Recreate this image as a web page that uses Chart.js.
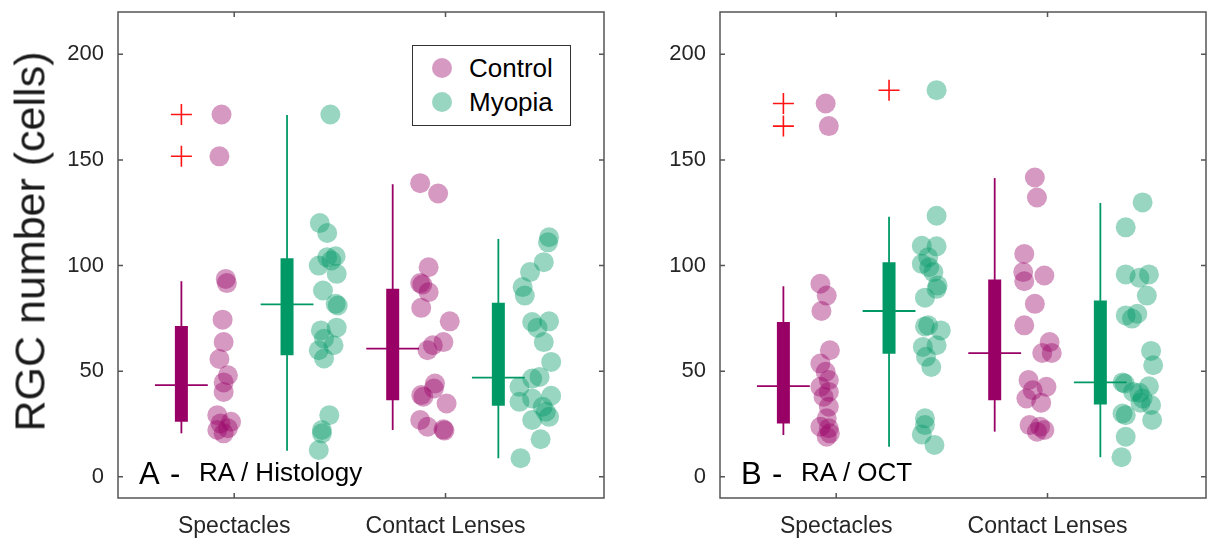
<!DOCTYPE html>
<html>
<head>
<meta charset="utf-8">
<script src="https://cdn.jsdelivr.net/npm/chart.js@4.4.1/dist/chart.umd.min.js"></script>
<style>
  body { margin: 0; background: #fff; }
  #wrap { position: relative; width: 1207px; height: 541px; overflow: hidden;
          font-family: "Liberation Sans", Arial, Helvetica, sans-serif; color: #000; }
  canvas { position: absolute; top: 0; }
  .txt { position: absolute; line-height: 1; white-space: nowrap; }
  #ytitle { left: -200px; top: 220px; width: 460px; text-align: center; font-size: 43px;
            transform: rotate(-90deg); color: #1a1a1a; }
  #legend { position: absolute; left: 412px; top: 45px; width: 159px; height: 81px;
            box-sizing: border-box; border: 1.5px solid #333; background: #fff; }
  .dot { position: absolute; width: 20px; height: 20px; border-radius: 50%; }
</style>
</head>
<body>
<div id="wrap">
  <canvas id="histo" width="610" height="541" style="left:0"></canvas>
  <canvas id="oct" width="605" height="541" style="left:602px"></canvas>

  <div id="ytitle" class="txt">RGC number (cells)</div>

  <div id="legend">
    <div class="dot" style="left:19px; top:12px; background:rgba(153,0,102,0.4)"></div>
    <div class="txt" style="left:56px; top:9px; font-size:26px">Control</div>
    <div class="dot" style="left:19px; top:46px; background:rgba(0,153,102,0.4)"></div>
    <div class="txt" style="left:56px; top:43px; font-size:26px">Myopia</div>
  </div>

  <div class="txt" style="left:139px; top:458px; font-size:31px">A</div>
  <div class="txt" style="left:170px; top:458px; font-size:31px">-</div>
  <div class="txt" style="left:199px; top:459px; font-size:26px">RA / Histology</div>

  <div class="txt" style="left:741px; top:458px; font-size:31px">B</div>
  <div class="txt" style="left:772px; top:458px; font-size:31px">-</div>
  <div class="txt" style="left:801px; top:459px; font-size:26px">RA / OCT</div>
</div>

<script>
const categories = ["Spectacles", "Contact Lenses"];
const yTicks = [0, 50, 100, 150, 200];

// A - RA / Histology : individual eyes and jitter (x offset, axis units)
const histCtrlSpec = [171.5, 151.7, 93.7, 91.7, 74.4, 63.8, 55.8, 48.1, 44.7, 40.2, 29.2, 26.1, 25.3, 22.2, 23.0, 20.6];
const histCtrlSpecJit = [-0.01, -0.02, 0.01, 0.015, -0.005, 0, -0.02, 0.02, 0, 0, -0.03, 0.035, -0.015, -0.03, 0.02, 0];
const histMyoSpec = [171.5, 120.1, 115.4, 104.4, 103.9, 102.4, 100, 96.1, 88.2, 81.9, 81.1, 70.6, 69.3, 65.4, 62.3, 59.9, 56.0, 29.2, 22.2, 20.6, 12.7];
const histMyoSpecJit = [0.005, -0.045, -0.01, 0.03, -0.01, 0.01, -0.05, 0.035, -0.03, 0.03, 0.04, 0.035, -0.04, -0.025, 0.02, -0.05, -0.025, 0, -0.035, -0.035, -0.05];
const histCtrlCL = [139, 134.1, 99.2, 91.7, 91, 87.4, 80, 73.6, 63.8, 62.3, 59.9, 44.2, 41.8, 38.7, 37.9, 34.7, 26.9, 23.7, 22.5, 21.9];
const histCtrlCLJit = [-0.07, 0.015, -0.03, -0.07, -0.06, -0.03, -0.065, 0.07, 0.04, -0.01, -0.035, 0, -0.005, -0.065, -0.055, 0.055, -0.07, -0.035, 0.04, 0.045];
const histMyoCL = [113.4, 111, 101.6, 96.9, 89.8, 85.8, 73.3, 73.6, 70.6, 63.8, 54.4, 47.3, 46.5, 42.6, 38.4, 37.1, 35.5, 33.2, 30.8, 28.4, 26.9, 17.8, 8.8];
const histMyoCLJit = [0.04, 0.035, 0.015, -0.05, -0.085, -0.075, -0.04, 0.04, -0.015, 0.015, 0.05, -0.005, -0.04, -0.1, 0.05, -0.04, -0.1, 0.01, 0.025, 0.04, -0.04, 0, -0.095];

// box stats: [whisker low, q1, median, q3, whisker high]
const histCtrlSpecBox = [20.6, 26.1, 43.4, 71.4, 92.6];
const histMyoSpecBox = [12.4, 57.5, 81.6, 103.5, 171.2];
const histCtrlCLBox = [22.2, 36.3, 60.7, 89, 138.5];
const histMyoCLBox = [8.8, 33.6, 47, 82.4, 112.6];
const histCtrlSpecOut = [171.5, 151.7];

// B - RA / OCT
const octCtrlSpec = [176.7, 166, 91.4, 85.8, 78.5, 59.9, 53.6, 49.7, 45.8, 42.6, 40.2, 37.9, 33.2, 27.7, 23.7, 23.0, 20.6, 19];
const octCtrlSpecJit = [0, 0.015, -0.025, 0.005, -0.02, 0.02, -0.025, 0, 0.015, -0.025, 0.015, -0.01, 0.015, 0.005, -0.025, 0.015, 0.02, 0.005];
const octMyoSpec = [183, 123.6, 109.4, 109.1, 103.9, 100.8, 99.2, 96.9, 90.6, 89, 84.8, 71.7, 71.2, 69.3, 62.3, 61.5, 56.8, 52, 27.7, 24.5, 20.1, 15.1];
const octMyoSpecJit = [0.025, 0.025, -0.045, 0.025, -0.015, -0.045, -0.01, 0.01, 0.03, 0.025, -0.03, -0.015, -0.03, 0.045, 0.025, -0.04, -0.025, 0, -0.03, -0.03, -0.045, 0.015];
const octCtrlCL = [141.7, 132.2, 105.5, 96.9, 92.6, 95.3, 81.9, 71.7, 63.8, 58.6, 58.6, 45.8, 42.6, 41, 37.1, 35.1, 24.5, 23.7, 22.2, 21.4];
const octCtrlCLJit = [-0.01, 0, -0.06, -0.065, -0.06, 0.035, -0.01, -0.06, 0.06, 0.025, 0.07, -0.04, 0.045, -0.02, -0.05, 0.02, -0.035, 0.015, 0.035, 0];
const octMyoCL = [129.9, 118.1, 95.8, 95.8, 94.2, 85.8, 76.4, 77.2, 74.9, 59.6, 52.8, 44.7, 44.2, 42.9, 39.8, 40.2, 37.1, 34, 35.1, 30, 29.2, 26.9, 19, 9.3];
const octMyoCLJit = [0, -0.08, -0.08, 0.03, -0.015, 0.02, -0.08, -0.025, -0.05, 0.04, 0.05, -0.095, -0.085, 0.03, -0.015, -0.045, 0, 0.04, -0.01, -0.095, -0.08, 0.045, -0.08, -0.1];

const octCtrlSpecBox = [19.8, 25.3, 42.9, 73.3, 90.2];
const octMyoSpecBox = [14.3, 58.3, 78.5, 101.6, 123.1];
const octCtrlCLBox = [21.4, 36.3, 58.6, 93.4, 141.4];
const octMyoCLBox = [9.3, 34.3, 44.7, 83.5, 129.6];
const octCtrlSpecOut = [176.7, 166];
const octMyoSpecOut = [183];

const FONT = '"Liberation Sans", Arial, Helvetica, sans-serif';
const CTRL = 'rgb(153,0,102)', CTRL_L = 'rgba(153,0,102,0.4)';
const MYO = 'rgb(0,153,102)', MYO_L = 'rgba(0,153,102,0.4)';

function line(pts, color, width) {
  return { data: pts, showLine: true, borderColor: color, borderWidth: width,
           borderCapStyle: 'butt', pointRadius: 0, fill: false };
}

// one group = boxplot at cat+boxOff, scattered eyes at cat+ptOff
function group(cat, isCtrl, box, vals, jit, out) {
  const col = isCtrl ? CTRL : MYO;
  const bx = cat + (isCtrl ? -0.25 : 0.25);
  const px = cat + (isCtrl ? -0.05 : 0.45);
  const sets = [
    { data: vals.map((v, i) => ({ x: px + jit[i], y: v })), pointRadius: 10,
      backgroundColor: isCtrl ? CTRL_L : MYO_L, borderWidth: 0, pointHoverRadius: 10 },
    line([{ x: bx - 0.125, y: box[2] }, { x: bx + 0.125, y: box[2] }], col, 1.8),
    line([{ x: bx, y: box[1] }, { x: bx, y: box[3] }], col, 13),
    line([{ x: bx, y: box[0] }, { x: bx, y: box[4] }], col, 1.8)
  ];
  if (out && out.length) {
    sets.push({ data: out.map(v => ({ x: bx, y: v })), pointStyle: 'cross', pointRadius: 10.5,
                borderColor: 'rgb(255,20,20)', borderWidth: 1.6, backgroundColor: 'transparent' });
  }
  return sets;
}

const frame = {
  id: 'frame',
  afterDatasetsDraw(chart) {
    const { ctx, chartArea: a, scales } = chart;
    ctx.save();
    ctx.strokeStyle = '#555';
    ctx.lineWidth = 1.5;
    ctx.strokeRect(a.left, a.top, a.right - a.left, a.bottom - a.top);
    ctx.beginPath();
    yTicks.forEach(v => {
      const y = scales.y.getPixelForValue(v);
      ctx.moveTo(a.left, y); ctx.lineTo(a.left + 5, y);
      ctx.moveTo(a.right, y); ctx.lineTo(a.right - 5, y);
    });
    [1, 2].forEach(v => {
      const x = scales.x.getPixelForValue(v);
      ctx.moveTo(x, a.bottom); ctx.lineTo(x, a.bottom - 5);
      ctx.moveTo(x, a.top); ctx.lineTo(x, a.top + 5);
    });
    ctx.stroke();
    ctx.restore();
  }
};

function noPad(s) {
  s.paddingTop = 0; s.paddingBottom = 0; s.paddingLeft = 0; s.paddingRight = 0;
}

function panel(id, datasets) {
  const canvas = document.getElementById(id);
  new Chart(canvas, {
    type: 'scatter',
    data: { datasets },
    plugins: [frame],
    options: {
      responsive: false,
      animation: false,
      layout: { autoPadding: false, padding: { top: 12, right: canvas.width - 604, left: 0, bottom: 0 } },
      plugins: { legend: { display: false }, tooltip: { enabled: false }, colors: { enabled: false } },
      scales: {
        x: {
          type: 'linear', min: 0.45, max: 2.75,
          grid: { display: false, drawTicks: false }, border: { display: false },
          afterBuildTicks: s => { s.ticks = [{ value: 1 }, { value: 2 }]; },
          afterFit: s => { s.height = 43; noPad(s); },
          ticks: { callback: (v, i) => categories[i], autoSkip: false, maxRotation: 0,
                   padding: 15, color: '#262626', font: { family: FONT, size: 23 } }
        },
        y: {
          min: -10, max: 220,
          grid: { display: false, drawTicks: false }, border: { display: false },
          afterBuildTicks: s => { s.ticks = yTicks.map(v => ({ value: v })); },
          afterFit: s => { s.width = 118; noPad(s); },
          ticks: { padding: 14, color: '#262626', font: { family: FONT, size: 22 } }
        }
      }
    }
  });
}

panel('histo', [
  ...group(1, true, histCtrlSpecBox, histCtrlSpec, histCtrlSpecJit, histCtrlSpecOut),
  ...group(1, false, histMyoSpecBox, histMyoSpec, histMyoSpecJit, []),
  ...group(2, true, histCtrlCLBox, histCtrlCL, histCtrlCLJit, []),
  ...group(2, false, histMyoCLBox, histMyoCL, histMyoCLJit, [])
]);

panel('oct', [
  ...group(1, true, octCtrlSpecBox, octCtrlSpec, octCtrlSpecJit, octCtrlSpecOut),
  ...group(1, false, octMyoSpecBox, octMyoSpec, octMyoSpecJit, octMyoSpecOut),
  ...group(2, true, octCtrlCLBox, octCtrlCL, octCtrlCLJit, []),
  ...group(2, false, octMyoCLBox, octMyoCL, octMyoCLJit, [])
]);
</script>
</body>
</html>
